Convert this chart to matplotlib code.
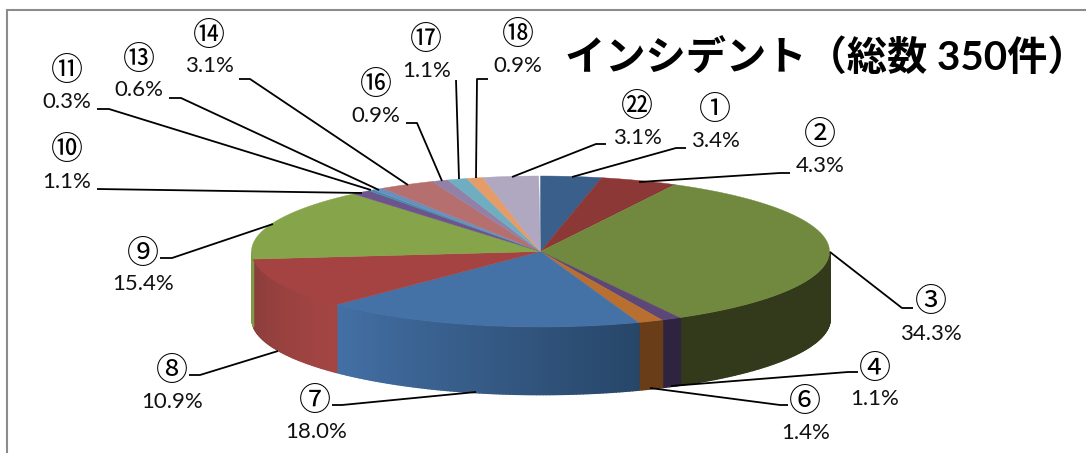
import numpy as np
import matplotlib
matplotlib.use('Agg')
import matplotlib.pyplot as plt

W, H = 1086, 453

# data
numbers = ['①', '②', '③', '④', '⑥', '⑦', '⑧', '⑨', '⑩', '⑪', '⑬', '⑭', '⑯', '⑰', '⑱', '㉒']
shares = [3.4, 4.3, 34.3, 1.1, 1.4, 18.0, 10.9, 15.4, 1.1, 0.3, 0.6, 3.1, 0.9, 1.1, 0.9, 3.1]

# style
top_colors = ['#3A5F8B', '#8C3836', '#71893F', '#5C4776', '#B96F30', '#4471A6', '#A44341', '#86A44A',
              '#6E548D', '#3F8FA8', '#6A8FBF', '#B56F6E', '#9181A8', '#6FAEC0', '#E59C69', '#B0A7C0']
side_start = {'③': '#333A1B', '④': '#2F2440', '⑥': '#683D18', '⑦': '#274668', '⑧': '#A54543', '⑨': '#7F9A46'}
side_end = {'③': '#333A1B', '④': '#2F2440', '⑥': '#683D18', '⑦': '#4470A5', '⑧': '#8A3D3B', '⑨': '#7F9A46'}

# pie geometry, in pixels
cx, cy = 540.5, 251.5
rx, ry = 289, 75.5
depth = 67

# label layout, in pixels: number centre, percent centre, leader line
number_xy = [(715, 106), (820, 131), (931, 298), (875, 365), (805, 398), (315, 397), (172, 367), (143, 250),
             (67, 146), (67, 67), (139, 56), (209, 32), (376, 81), (426, 36), (518, 31), (637, 103)]
percent_xy = [(715, 140), (820, 165), (931, 333), (875, 398), (806, 432), (316, 431), (172, 401), (143, 283),
              (67, 181), (67, 101), (139, 89), (209, 65), (376, 115), (427, 70), (518, 65), (637, 137)]
leaders = [[(572, 177), (676, 148), (686, 148)],
           [(639, 182), (780, 173), (790, 173)],
           [(830, 252), (902, 308), (913, 308)],
           [(671, 386), (848, 372), (858, 372)],
           [(650, 388), (780, 405), (788, 405)],
           [(476, 392), (342, 405), (332, 405)],
           [(278, 351), (200, 375), (189, 375)],
           [(273, 224), (172, 258), (160, 258)],
           [(362, 193), (97, 189)],
           [(371, 190), (109, 109), (97, 109)],
           [(379, 190), (181, 98), (169, 98)],
           [(408, 185), (250, 79), (239, 79)],
           [(442, 181), (417, 123), (406, 123)],
           [(459, 179), (456, 80)],
           [(476, 178), (477, 79), (488, 79)],
           [(512, 177), (596, 144), (606, 144)]]

fig = plt.figure(figsize=(W / 100, H / 100), dpi=100)
ax = fig.add_axes([0, 0, 1, 1])
ax.set_xlim(0, W)
ax.set_ylim(H, 0)
ax.axis('off')

# frame
ax.plot([7, 7, W], [H, 10, 10], color='#8C8C8C', lw=1.5, solid_joinstyle='miter')


def rim(a):
    # a is degrees clockwise from 12 o'clock
    t = np.radians(a)
    return cx + rx * np.sin(t), cy - ry * np.cos(t)


def mix(c1, c2, f):
    a = np.array(matplotlib.colors.to_rgb(c1))
    b = np.array(matplotlib.colors.to_rgb(c2))
    return a + (b - a) * f


edges = np.cumsum([0] + shares) * 3.6

# side wall, only the front half shows
for i, n in enumerate(numbers):
    a0, a1 = max(edges[i], 90), min(edges[i + 1], 270)
    if a1 <= a0 or n not in side_start:
        continue
    steps = max(int((a1 - a0) * 1.5), 2)
    aa = np.linspace(a0, a1, steps + 1)
    for k in range(steps):
        x, y = rim(np.linspace(aa[k], aa[k + 1], 4))
        col = mix(side_start[n], side_end[n], (k + 0.5) / steps)
        ax.fill_between(x, y, y + depth, facecolor=col, edgecolor=col, lw=1.2, zorder=2)

# top face
for i in range(len(shares)):
    x, y = rim(np.linspace(edges[i], edges[i + 1], 60))
    ax.fill(np.r_[cx, x], np.r_[cy, y], color=top_colors[i], lw=0.3, zorder=3)

for pts in leaders:
    xs, ys = zip(*pts)
    ax.plot(xs, ys, color='black', lw=1.3, zorder=4, solid_capstyle='butt')

for i, n in enumerate(numbers):
    # the CJK font sits a bit high with va=center
    ax.text(number_xy[i][0], number_xy[i][1] + 4, n, ha='center', va='center', fontsize=23,
            family=['Noto Sans CJK JP', 'DejaVu Sans'], color='black', zorder=5)
    ax.text(percent_xy[i][0], percent_xy[i][1] + 1, '{:.1f}%'.format(shares[i]), ha='center', va='center',
            fontsize=16, family='Lato', color='#111111', zorder=5)

ax.text(826, 58, 'インシデント（総数 350件）', ha='center', va='center', fontsize=29, fontweight='bold',
        family=['Lato', 'Noto Sans CJK JP'], color='black', zorder=5)

fig.savefig('out.png', dpi=100)
